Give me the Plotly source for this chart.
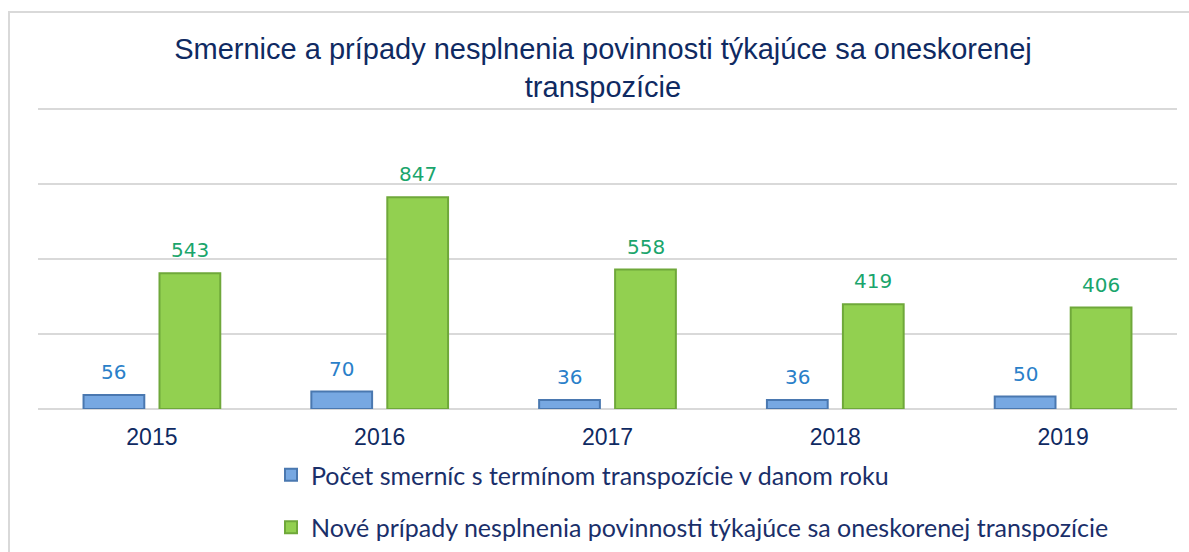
import plotly.graph_objects as go

years = ["2015", "2016", "2017", "2018", "2019"]
smernice = [56, 70, 36, 36, 50]
pripady = [543, 847, 558, 419, 406]
name_smernice = "Počet smerníc s termínom transpozície v danom roku"
name_pripady = "Nové prípady nesplnenia povinnosti týkajúce sa oneskorenej transpozície"
title_text = "Smernice a prípady nesplnenia povinnosti týkajúce sa oneskorenej<br>transpozície"

navy = "#0f2a62"
blue_lbl = "#2a7fc9"
green_lbl = "#1aa56c"

W, H = 1189, 552
YMAX = 1212
L, R, B = 38, 12, 0
T = int(round(409 - 300 * YMAX / 1200))
PH = H - T - B  # paper height in px


def py(pix):
    return (H - B - pix) / PH


def px(pix):
    return (pix - L) / (W - L - R)


fig = go.Figure()
fig.add_trace(go.Bar(
    x=years, y=smernice, name=name_smernice, legendgroup="a",
    marker=dict(color="#77a8e2", line=dict(color="#4a78b0", width=2)),
))
fig.add_trace(go.Bar(
    x=years, y=pripady, name=name_pripady, legendgroup="b",
    marker=dict(color="#92d050", line=dict(color="#6fa83a", width=2)),
))

annotations = []
for i, v in enumerate(smernice):
    annotations.append(dict(x=i, y=v, xref="x", yref="y", text=str(v), showarrow=False,
                            yanchor="bottom", xshift=-38, yshift=9,
                            font=dict(family="DejaVu Sans", size=20, color=blue_lbl)))
for i, v in enumerate(pripady):
    annotations.append(dict(x=i, y=v, xref="x", yref="y", text=str(v), showarrow=False,
                            yanchor="bottom", xshift=38, yshift=9,
                            font=dict(family="DejaVu Sans", size=20, color=green_lbl)))

fig.update_layout(
    width=W, height=H,
    margin=dict(l=L, r=R, t=T, b=B),
    paper_bgcolor="white", plot_bgcolor="white",
    barmode="group", bargap=0.333, bargroupgap=0.2,
    title=dict(text=title_text, x=603 / W, xanchor="center", xref="container",
               y=1 - 59 / H, yanchor="middle", yref="container",
               font=dict(family="Liberation Sans", size=29, color=navy)),
    xaxis=dict(type="category", range=[-0.5, 4.5], showgrid=False, showline=False, ticks="",
               ticklabelstandoff=12,
               tickfont=dict(family="Liberation Sans", size=23, color=navy)),
    yaxis=dict(range=[0, YMAX], tickvals=[0, 300, 600, 900, 1200], showticklabels=False,
               showgrid=True, domain=[py(409), 1],
               gridcolor="#d9d9d9", gridwidth=2, zeroline=True, zerolinecolor="#d9d9d9",
               zerolinewidth=2, showline=False),
    legend=dict(x=px(271), y=py(452), xanchor="left", yanchor="top", orientation="v",
                traceorder="grouped", tracegroupgap=17,
                font=dict(family="Lato", size=25, color="#1a2f6a"),
                bgcolor="rgba(0,0,0,0)"),
    annotations=annotations,
    shapes=[dict(type="rect", xref="paper", yref="paper",
                 x0=px(9), x1=px(1200), y0=py(560), y1=py(12),
                 line=dict(color="#d9d9d9", width=2), fillcolor="rgba(0,0,0,0)", layer="below")],
)

fig.write_html("out.html", config={"displayModeBar": False},
               post_script="document.body.style.margin='0';")
